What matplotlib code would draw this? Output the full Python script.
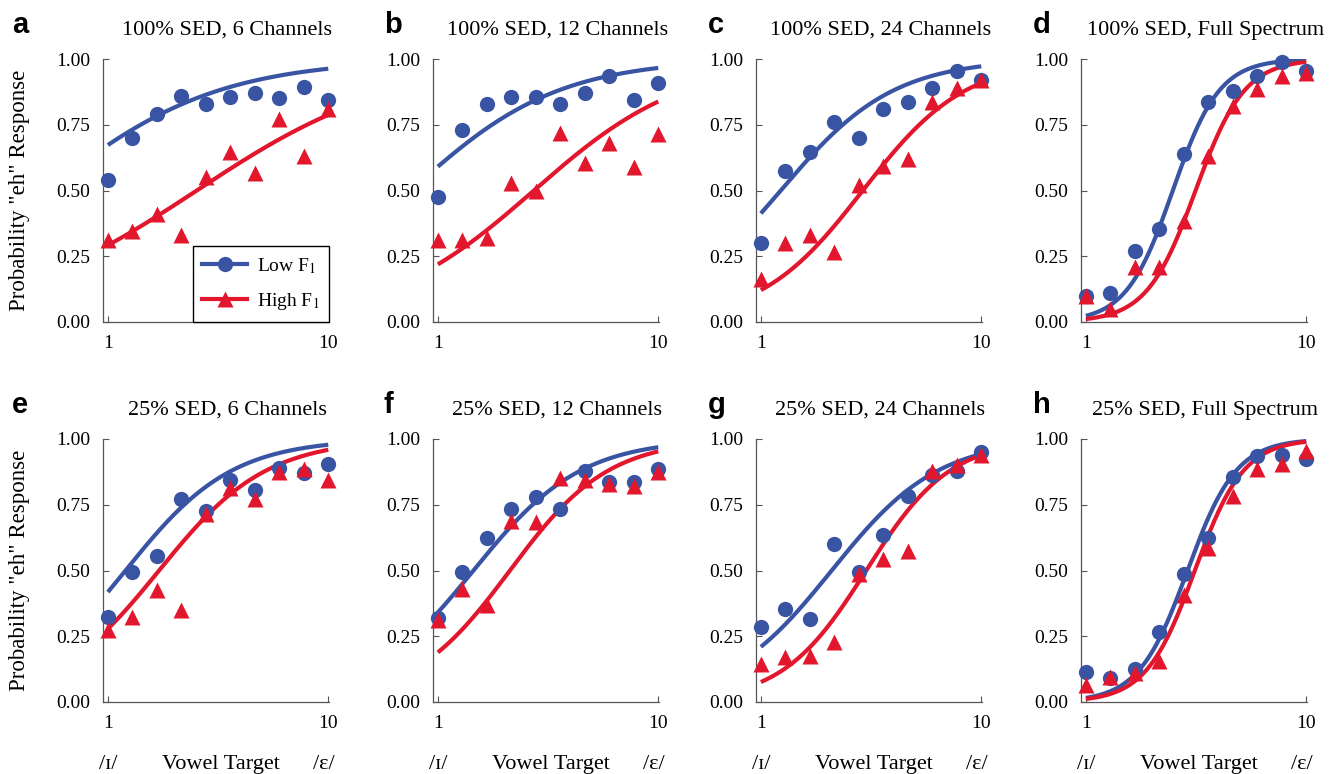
import matplotlib
matplotlib.use("Agg")
import matplotlib.pyplot as plt
from matplotlib.lines import Line2D
import numpy as np

# ---------------- data ----------------
steps = [1, 2, 3, 4, 5, 6, 7, 8, 9, 10]

titles = ["100% SED, 6 Channels", "100% SED, 12 Channels", "100% SED, 24 Channels",
          "100% SED, Full Spectrum", "25% SED, 6 Channels", "25% SED, 12 Channels",
          "25% SED, 24 Channels", "25% SED, Full Spectrum"]
letters = ["a", "b", "c", "d", "e", "f", "g", "h"]

low_a = [0.54, 0.70, 0.79, 0.86, 0.83, 0.855, 0.87, 0.85, 0.895, 0.845]
high_a = [0.31, 0.345, 0.41, 0.33, 0.55, 0.645, 0.565, 0.77, 0.63, 0.81]
low_b = [0.475, 0.73, 0.83, 0.855, 0.855, 0.83, 0.87, 0.935, 0.845, 0.91]
high_b = [0.31, 0.31, 0.32, 0.53, 0.50, 0.72, 0.605, 0.68, 0.59, 0.715]
low_c = [0.30, 0.575, 0.645, 0.76, 0.70, 0.81, 0.835, 0.89, 0.955, 0.92]
high_c = [0.165, 0.30, 0.33, 0.265, 0.52, 0.595, 0.62, 0.835, 0.89, 0.92]
low_d = [0.10, 0.11, 0.27, 0.355, 0.64, 0.835, 0.88, 0.935, 0.99, 0.955]
high_d = [0.10, 0.05, 0.21, 0.21, 0.385, 0.63, 0.82, 0.885, 0.935, 0.945]
low_e = [0.325, 0.495, 0.555, 0.77, 0.725, 0.845, 0.805, 0.89, 0.87, 0.905]
high_e = [0.275, 0.325, 0.425, 0.35, 0.715, 0.815, 0.77, 0.875, 0.885, 0.845]
low_f = [0.32, 0.495, 0.625, 0.735, 0.78, 0.735, 0.88, 0.835, 0.835, 0.885]
high_f = [0.31, 0.43, 0.37, 0.69, 0.685, 0.85, 0.845, 0.83, 0.82, 0.875]
low_g = [0.285, 0.355, 0.315, 0.60, 0.495, 0.635, 0.785, 0.865, 0.88, 0.95]
high_g = [0.145, 0.17, 0.175, 0.23, 0.485, 0.545, 0.575, 0.88, 0.90, 0.94]
low_h = [0.115, 0.09, 0.125, 0.265, 0.485, 0.625, 0.855, 0.935, 0.94, 0.925]
high_h = [0.065, 0.095, 0.11, 0.155, 0.405, 0.585, 0.785, 0.885, 0.905, 0.955]

low_points = [low_a, low_b, low_c, low_d, low_e, low_f, low_g, low_h]
high_points = [high_a, high_b, high_c, high_d, high_e, high_f, high_g, high_h]

# logistic fit parameters per panel: midpoint (step) and slope
low_mid = [-1.56, -0.11, 1.81, 4.55, 1.72, 2.45, 3.89, 5.15]
low_slope = [0.282, 0.331, 0.434, 1.05, 0.459, 0.455, 0.459, 1.00]
high_mid = [4.63, 4.92, 5.16, 5.48, 3.09, 3.94, 5.30, 5.45]
high_slope = [0.244, 0.324, 0.476, 1.00, 0.456, 0.496, 0.581, 1.00]

yticks = [0.0, 0.25, 0.5, 0.75, 1.0]
ytick_labels = ["0.00", "0.25", "0.50", "0.75", "1.00"]
xticks = [1, 10]
xtick_labels = ["1", "10"]

# ---------------- style ----------------
plt.rcParams['font.family'] = ['Liberation Serif', 'DejaVu Serif']
plt.rcParams['mathtext.fontset'] = 'stix'

BLUE = '#3a54a4'
RED = '#e2162c'
SPINE = '#555555'

W, H = 1332, 774
fig = plt.figure(figsize=(W / 100, H / 100), dpi=100)

lefts = [103, 433, 756, 1081]
tops = [59, 439]
ax_w = 226
ax_h = 263

letter_x = [12, 384, 708, 1033]
letter_base = [33, 413]


def logistic(x, mid, slope):
    return 1.0 / (1.0 + np.exp(-slope * (x - mid)))


xs = np.linspace(1, 10, 200)

for i in range(8):
    r, c = divmod(i, 4)
    left = lefts[c]
    top = tops[r]
    ax = fig.add_axes([left / W, 1 - (top + ax_h) / H, ax_w / W, ax_h / H])

    ax.plot(xs, logistic(xs, low_mid[i], low_slope[i]), color=BLUE, lw=3.0,
            solid_capstyle='butt', zorder=2)
    ax.plot(xs, logistic(xs, high_mid[i], high_slope[i]), color=RED, lw=3.0,
            solid_capstyle='butt', zorder=2)
    ax.plot(steps, low_points[i], 'o', color=BLUE, ms=11, mec='none',
            clip_on=False, zorder=3)
    ax.plot(steps, high_points[i], '^', color=RED, ms=12, mec='none',
            clip_on=False, zorder=4)

    ax.set_xlim(0.8, 10.03)
    ax.set_ylim(0, 1)
    ax.set_yticks(yticks)
    ax.set_yticklabels(ytick_labels)
    ax.set_xticks(xticks)
    ax.set_xticklabels(xtick_labels)
    ax.tick_params(direction='in', length=4, width=0.8, color=SPINE,
                   labelsize=14, pad=9)
    for s in ['top', 'right']:
        ax.spines[s].set_visible(False)
    for s in ['left', 'bottom']:
        ax.spines[s].set_color(SPINE)
        ax.spines[s].set_linewidth(0.9)

    ax.text(0.549, 1 + 24 / ax_h, titles[i], transform=ax.transAxes,
            ha='center', va='baseline', fontsize=16)

    fig.text(letter_x[c] / W, 1 - letter_base[r] / H, letters[i],
             family=['Liberation Sans', 'DejaVu Sans'], fontweight='bold',
             fontsize=21, ha='left', va='baseline')

    if c == 0:
        ax.set_ylabel('Probability "eh" Response', fontsize=16.5)
        ax.yaxis.set_label_coords(-73 / ax_w, 0.5)

    if r == 1:
        yb = -(768 - 701) / ax_h
        ax.text(1, yb, "/\u026a/", transform=ax.get_xaxis_transform(),
                ha='center', va='baseline', fontsize=16)
        ax.text(0.5 + 5 / ax_w, yb, "Vowel Target", transform=ax.transAxes,
                ha='center', va='baseline', fontsize=16)
        ax.text(9.8, yb, "/\u03b5/", transform=ax.get_xaxis_transform(),
                ha='center', va='baseline', fontsize=16)

    if i == 0:
        handles = [Line2D([], [], color=BLUE, lw=3.0, marker='o', ms=11, mec='none'),
                   Line2D([], [], color=RED, lw=3.0, marker='^', ms=12, mec='none')]
        leg = ax.legend(handles, ["Low F$_1$", "High F$_1$"], loc='lower right',
                        bbox_to_anchor=(1.0, 0.0), borderaxespad=0.0,
                        fontsize=14, handlelength=2.3, handletextpad=0.5,
                        borderpad=0.5, labelspacing=0.8, fancybox=False,
                        framealpha=1.0)
        leg.get_frame().set_edgecolor('black')
        leg.get_frame().set_linewidth(1.0)

fig.savefig("out.png", dpi=100)
